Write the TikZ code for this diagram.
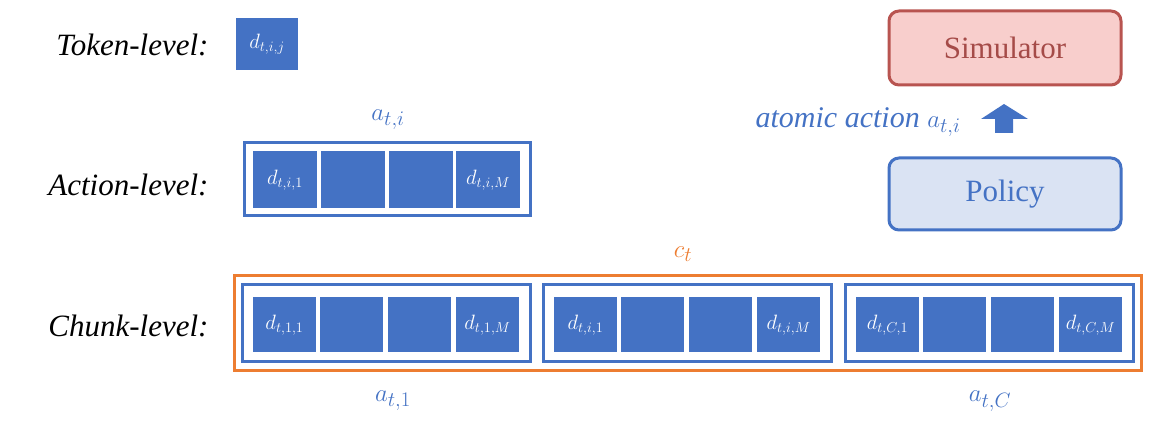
\documentclass[tikz,border=0pt]{standalone}
\usepackage{fontspec}
\setmainfont{Liberation Serif}
\begin{document}
\definecolor{bl}{HTML}{4472C4}
\definecolor{og}{HTML}{ED7D31}
\definecolor{sf}{HTML}{F8CECC}
\definecolor{sd}{HTML}{B85450}
\definecolor{pf}{HTML}{DAE3F3}
\begin{tikzpicture}[x=1pt,y=-1pt,
  lvl/.style={font=\fontsize{31}{34}\selectfont\itshape, anchor=east},
  cell/.style={fill=bl, draw=none},
  ctext/.style={text=white, font=\fontsize{22}{24}\selectfont},
  box/.style={draw=bl, line width=3pt},
  blab/.style={text=bl, font=\fontsize{30}{32}\selectfont}]
\useasboundingbox (0,0) rectangle (1160,430);
\node[lvl] (tl) at (212,45) {Token-level:};
\node[lvl] (al) at (212,185) {Action-level:};
\node[lvl] (cl) at (212,326) {Chunk-level:};
\fill[bl] (236,18) rectangle (298,70);
\node[ctext] (tok) at (267,44) {$d_{t,i,j}$};
% action level
\node[blab] (ai) at (388,120) {$a_{t,i}$};
\draw[box] (244,143) rectangle (530,216);
\foreach \x/\t in {253/{d_{t,i,1}},321/{},389/{},456/{d_{t,i,M}}}{
  \fill[bl] (\x,151) rectangle ++(64,57);
  \node[ctext] at (\x+32,180) {$\t$};
}
% chunk level
\draw[og, line width=3pt] (234,276) rectangle (1141,371);
\node[text=og, font=\fontsize{30}{32}\selectfont] (ct) at (683,254) {$c_t$};
\foreach \bx/\m in {242/1,543/i,845/C}{
  \draw[box] (\bx,285) rectangle ++(288,77);
  \foreach \k/\t in {11/{d_{t,\m,1}},78/{},146/{},214/{d_{t,\m,M}}}{
    \fill[bl] (\bx+\k,297) rectangle ++(63,55);
    \node[ctext] at (\bx+\k+31.5,325) {$\t$};
  }
}
\node[blab] (a1) at (393,401) {$a_{t,1}$};
\node[blab] (aC) at (990,401) {$a_{t,C}$};
% right
\node[draw=sd, fill=sf, line width=3pt, rounded corners=10pt, minimum width=232pt, minimum height=74pt,
  text=sd!90!black, font=\fontsize{31}{34}\selectfont] (sim) at (1005,48) {Simulator};
\node[draw=bl, fill=pf, line width=3pt, rounded corners=10pt, minimum width=232pt, minimum height=72pt,
  text=bl, font=\fontsize{31}{34}\selectfont] (pol) at (1005,194) {Policy};
\node[blab, anchor=east] (aa) at (964,122) {\itshape atomic action $a_{t,i}$};
\fill[bl] (981,119) -- (1004,104) -- (1028,119) -- (1013,119) -- (1013,133) -- (995,133) -- (995,119) -- cycle;
\end{tikzpicture}
\end{document}
